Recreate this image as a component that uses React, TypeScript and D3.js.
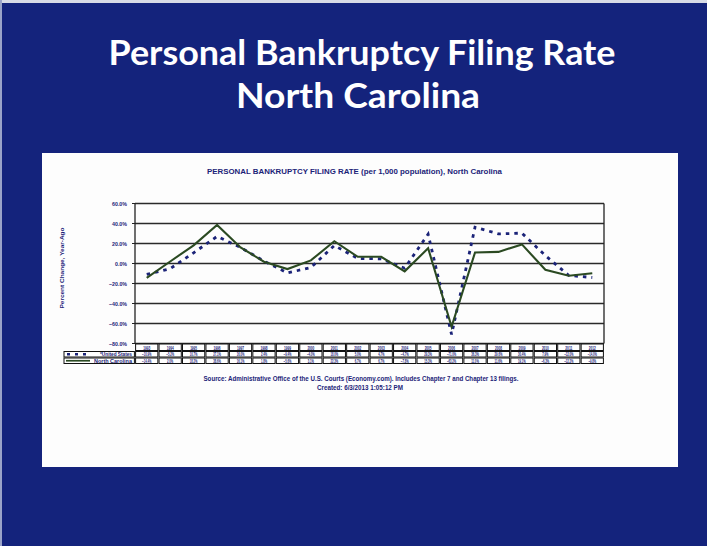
import React from "react";
import * as d3 from "d3";

const years = ["1993","1994","1995","1996","1997","1998","1999","2000","2001","2002","2003","2004","2005","2006","2007","2008","2009","2010","2011","2012"];
const usValues = [-10.9,-5.2,10.7,27.1,16.0,2.4,-9.4,-4.0,18.0,5.0,4.7,-4.7,29.3,-71.0,36.3,29.6,30.4,7.9,-12.0,-14.0];
const ncValues = [-14.4,2.0,18.2,38.6,16.1,1.8,-5.6,3.1,22.3,6.7,6.7,-7.8,15.3,-63.2,11.0,11.6,19.1,-6.3,-12.2,-9.8];
const yTicks = [60,40,20,0,-20,-40,-60,-80];

const slideTitle1 = "Personal Bankruptcy Filing Rate";
const slideTitle2 = "North Carolina";
const chartTitle = "PERSONAL BANKRUPTCY FILING RATE (per 1,000 population), North Carolina";
const yAxisTitle = "Percent Change, Year-Ago";
const sourceText = "Source: Administrative Office of the U.S. Courts (Economy.com).  Includes Chapter 7 and Chapter 13 filings.";
const createdText = "Created: 6/3/2013 1:05:12 PM";
const usLabel = "*United States";
const ncLabel = "North Carolina";

const W = 707, H = 546;
const BG = "#14237c";
const NAVY = "#1b2378";
const GREEN = "#2b4a22";

export default function App() {
  const plotL = 135, plotR = 604, plotT = 203.5, plotB = 343.5;
  const x = d3.scaleBand<string>().domain(years).range([plotL, plotR]).padding(0);
  const y = d3.scaleLinear().domain([-80, 60]).range([plotB, plotT]);
  const cx = (d: string) => (x(d) as number) + x.bandwidth() / 2;

  const line = d3.line<number>().x((_, i) => cx(years[i])).y((v) => y(v));
  const fmt = (v: number) => d3.format(".1f")(v) + "%";

  const rowYear = [plotB, 351];
  const rowUS = [351, 357.5];
  const rowNC = [357.5, 364];
  const legendL = 64;
  const font = "'Liberation Sans Narrow', 'Liberation Sans', Arial, sans-serif";

  return (
    <svg width={W} height={H} style={{ position: "absolute", left: 0, top: 0 }} xmlns="http://www.w3.org/2000/svg">
      <rect x={0} y={0} width={W} height={H} fill={BG} />
      <rect x={0} y={0} width={W} height={3} fill="#d8dbe6" />
      <rect x={0} y={0} width={2} height={H} fill="#9aa3c8" />

      <text x={362} y={65} fill="#fff" fontFamily="Lato, 'Open Sans', sans-serif" fontWeight={700} fontSize={35}
        textAnchor="middle" textLength={507} lengthAdjust="spacingAndGlyphs">{slideTitle1}</text>
      <text x={358} y={108} fill="#fff" fontFamily="Lato, 'Open Sans', sans-serif" fontWeight={700} fontSize={35}
        textAnchor="middle" textLength={244} lengthAdjust="spacingAndGlyphs">{slideTitle2}</text>

      <rect x={42} y={153} width={636} height={314} fill="#fdfdfd" />

      <text x={354.5} y={174} fill={NAVY} fontFamily={font} fontWeight={700} fontSize={7.5}
        textAnchor="middle" textLength={295} lengthAdjust="spacingAndGlyphs">{chartTitle}</text>

      <text transform={`translate(64,268) rotate(-90)`} fill={NAVY} fontFamily={font} fontWeight={700} fontSize={6}
        textAnchor="middle" textLength={81} lengthAdjust="spacingAndGlyphs">{yAxisTitle}</text>

      {yTicks.map((t) => (
        <g key={t}>
          <line x1={plotL} x2={plotR} y1={y(t)} y2={y(t)} stroke="#2a2a2a" strokeWidth={1.6} />
          <line x1={plotL - 3} x2={plotL} y1={y(t)} y2={y(t)} stroke="#222" strokeWidth={1} />
          <text x={127} y={y(t) + 2} fill={NAVY} fontFamily={font} fontWeight={700} fontSize={5.8}
            textAnchor="end" textLength={fmt(t).length * 3} lengthAdjust="spacingAndGlyphs">{fmt(t)}</text>
        </g>
      ))}
      <line x1={plotL} x2={plotL} y1={plotT} y2={plotB} stroke="#222" strokeWidth={1.3} />
      <line x1={plotR} x2={plotR} y1={plotT} y2={plotB} stroke="#222" strokeWidth={1.3} />

      <path d={line(usValues) || ""} fill="none" stroke={NAVY} strokeWidth={2.8} strokeDasharray="3.5,5" />
      <path d={line(ncValues) || ""} fill="none" stroke={GREEN} strokeWidth={2.1} strokeLinejoin="miter" />

      {/* data table */}
      {years.map((yr) => {
        const x0 = x(yr) as number;
        const bw = x.bandwidth();
        return (
          <g key={yr}>
            {[rowYear, rowUS, rowNC].map((r, k) => (
              <rect key={k} x={x0 + 0.6} y={r[0] + 0.5} width={bw - 1.2} height={r[1] - r[0] - 1}
                fill="#fff" stroke="#111" strokeWidth={1} />
            ))}
          </g>
        );
      })}
      {years.map((yr, i) => (
        <g key={"t" + yr} fontFamily={font} fontWeight={700} fontSize={5.5} fill={NAVY} textAnchor="middle">
          <text x={cx(yr)} y={rowYear[1] - 1.5} textLength={7} lengthAdjust="spacingAndGlyphs">{yr}</text>
          <text x={cx(yr)} y={rowUS[1] - 1.5} textLength={fmt(usValues[i]).length * 1.55} lengthAdjust="spacingAndGlyphs">{fmt(usValues[i])}</text>
          <text x={cx(yr)} y={rowNC[1] - 1.5} textLength={fmt(ncValues[i]).length * 1.55} lengthAdjust="spacingAndGlyphs">{fmt(ncValues[i])}</text>
        </g>
      ))}
      {/* legend cells */}
      <rect x={legendL} y={rowUS[0] + 0.5} width={plotL - legendL - 0.6} height={rowUS[1] - rowUS[0] - 1} fill="#fff" stroke="#111" strokeWidth={1} />
      <rect x={legendL} y={rowNC[0] + 0.5} width={plotL - legendL - 0.6} height={rowNC[1] - rowNC[0] - 1} fill="#fff" stroke="#111" strokeWidth={1} />
      <line x1={legendL + 3} x2={legendL + 24} y1={(rowUS[0] + rowUS[1]) / 2} y2={(rowUS[0] + rowUS[1]) / 2}
        stroke={NAVY} strokeWidth={2.4} strokeDasharray="3,5" />
      <line x1={legendL + 2} x2={legendL + 26} y1={(rowNC[0] + rowNC[1]) / 2} y2={(rowNC[0] + rowNC[1]) / 2}
        stroke={GREEN} strokeWidth={1.7} />
      <text x={plotL - 3} y={rowUS[1] - 1.5} fill={NAVY} fontFamily={font} fontWeight={700} fontSize={5.5}
        textAnchor="end" textLength={32} lengthAdjust="spacingAndGlyphs">{usLabel}</text>
      <text x={plotL - 3} y={rowNC[1] - 1.5} fill={NAVY} fontFamily={font} fontWeight={700} fontSize={5.5}
        textAnchor="end" textLength={38} lengthAdjust="spacingAndGlyphs">{ncLabel}</text>

      <text x={361} y={381} fill={NAVY} fontFamily={font} fontWeight={700} fontSize={6.5}
        textAnchor="middle" textLength={315} lengthAdjust="spacingAndGlyphs">{sourceText}</text>
      <text x={360} y={390} fill={NAVY} fontFamily={font} fontWeight={700} fontSize={6.5}
        textAnchor="middle" textLength={86} lengthAdjust="spacingAndGlyphs">{createdText}</text>
    </svg>
  );
}
